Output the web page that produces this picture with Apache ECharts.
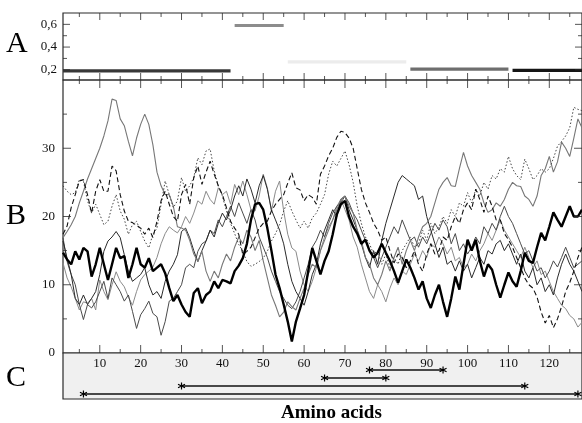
<!DOCTYPE html>
<html><head><meta charset="utf-8">
<script src="https://cdn.jsdelivr.net/npm/echarts@6/dist/echarts.min.js"></script>
<style>html,body{margin:0;padding:0;background:#fff}#c{width:582px;height:423px}</style>
</head><body><div id="c"></div>
<script>
// Residue numbering of the profiles
const firstResidue = 1;
const lastResidue = 128;

// Panel A: segment scores (start residue, end residue, score)
const segStart = [1, 43, 56, 86, 111];
const segEnd = [42, 55, 85, 110, 128];
const segScore = [0.19, 0.59, 0.27, 0.205, 0.195];
const segColor = ['#383838', '#8c8c8c', '#ececec', '#6e6e6e', '#151515'];

// Panel B: per-residue profiles
const thickProfile = [14.7,13.7,13.0,14.9,13.7,15.4,14.9,11.2,13,15.4, 13,10.7,13,15.4,13.9,14.2,11,13,15.4,13, 12.5,13.9,12,12.5,13,11.7,9.5,7.6,8.5,7.1, 6,5.3,8.8,9.5,7.3,8.5,9,10.5,9.5,10.7, 10.5,10.2,12,12.8,13.9,16,19.5,21.8,22,21, 18.3,15,11.5,9.5,7.1,4.6,1.7,4.6,6.5,8.5, 12,15.4,13.5,11.5,13.5,14.9,17.4,20.3,21.8,22.3, 20,18.5,17.5,16,16.6,15,14,14.7,16,14.7, 13.5,12,10.3,12,13.7,12.5,11,9.3,10.5,8, 6.6,8.5,10,7.5,5.3,8,11.2,9.3,13,16.6, 15,16.6,13.5,11.2,13,12.2,10,8.1,10,11.8, 10.5,9.7,12,14.7,13.5,13.2,15.5,17.6,16.5,18.5, 20.6,19.5,18.5,20,21.5,20,20,21];
const dashedProfile = [17.4,18.6,21.3,23.2,25.2,25.4,23.2,20.5,23.7,25.4, 23.7,23.7,27.4,26.7,23.2,20.8,19.3,19.1,18.7,18.3, 17.4,18.3,16.9,19.3,22.3,23.7,21.8,20,19.3,23.2, 24.7,21.8,25.7,27.4,24.7,26.5,28.1,26.2,24.5,23.2, 21.3,19.3,18.3,17.4,14.4,14.9,15.5,16.9,18.3,19, 19.3,20.8,21.8,22.5,23.2,24.9,26.4,24.2,23.9,22.3, 23.2,22.8,21.8,26.2,27.4,28.9,30,31.6,32.5,32.3, 31.5,30,27,24,22,20.6,19,18,16.5,17, 15,13.2,14.5,14,12.5,13.5,15,13,12,14.5, 16,14.5,15,17,16.5,18.5,20,19,21,22, 21,24,22.5,20.6,23,21.5,19.5,19.5,17.5,16.6, 15.5,14,12.5,11,10,9.5,8.2,6,4.4,5.5, 3.7,5,6.8,9,10.3,12,14,15.5];
const dottedProfile = [24.5,23.7,23.2,23.5,25.4,25.2,22.3,20.5,21.8,20.3, 18.8,19.3,21.5,23.2,20.8,19.6,17.4,18.8,19.3,17.8, 16.4,15.4,17.4,18.3,21.8,25.2,23.2,21.3,22.3,25.7, 23.7,24.5,25.7,28.6,27.6,29.6,29.9,26.7,24.5,23, 20.8,19,17.5,15.9,14.9,13.4,12.7,13,13.4,13.9, 14.9,16.4,17.5,18.8,20.8,22.3,20.8,19.5,18.3,19.3, 18.3,19.8,20.5,21.8,23.2,26.2,28.1,27.4,28.5,29.6, 27.6,25,21.5,19,17,16,14.5,15,13,14.5, 12.5,14,13,15,16,17,15.5,16,18,16.5, 19,17.5,18.5,20,19,21,20,22,21.5,23.5, 22,24,23,25,24,26,25.5,27,26.5,28.8, 27,26,25.4,28.4,27,25.4,26,27,26.5,27, 28.5,30.3,31,31.8,33,36,35.7,35.5];
const grayProfile = [16.9,17.8,18.8,20,22,23.7,25.5,27,28.5,30, 31.8,34,37.2,37,34.3,33.3,31,28.9,31.5,33.5, 35,33.5,30.5,26.5,24.5,23.2,23.2,21.5,18.5,18.3, 18,16.5,14.5,13.4,14.9,12,10.5,12,11,13, 14.5,13.5,15.5,17,16,18,17,15,16.5,13.5, 11,8.5,7,5.3,6,7.5,6.8,6.3,8,9.5, 11.5,13,12.5,15,16.5,18,19.5,21,22.5,23, 21.5,20.5,18,16.5,14,13,11,10,11.5,13.5, 12,14,15.5,13,15,16.5,15,17,18.5,19, 20,22,24,25,25.7,24.5,24.4,27,29.4,27.4, 26,25,24,22,20.6,21,22,21.5,22.5,24, 25,24.5,24.4,23,22.5,21.5,23,26,27,28.8, 26.5,28,30.9,30,28.8,31.5,34.3,33];
const blackProfile = [16.4,13.9,11.5,8,7.1,8.5,7.1,8,9,11.5, 14.9,16.4,17,17.8,16.9,14.4,12,10.5,11,11.5, 12.5,10,8.5,9,8,10.5,12,13,14.4,17.8, 18.3,16.9,15,13.4,15,16.4,18,17,19,20.5, 19.5,21,23,24.5,23,25.5,24,22,24.5,26, 24,21,19.5,18,16,13,10.5,9,8,7, 9,11.5,13,16,18,19.5,21,20,22.5,23, 21,19.5,18,16,14,12.5,15,13,16.5,19, 21,23,25,26,25.5,25,24.5,22.5,23,20, 18,16,14,15.5,13,13.5,12,13.5,12,13, 11,12.5,14,13,15,14.5,16,16.5,15,16, 14.5,13,14.5,12,11,12.5,10,11,9,10, 8.5,11,13,14.5,13,12,10.5,9];
const darkProfile = [16.9,13.4,11.5,10,7.1,4.9,7.1,6.6,7.5,9, 10.5,8,11,10,9,7.6,8.5,6.1,3.6,5.6, 6.5,7.6,5.8,5.3,2.6,4.6,7.6,8,9,10, 12.5,13,12.5,14.9,16,16.4,18,17.5,19.5,18.5, 20,21.5,20,22,20.5,19,21,19.5,17,15.5, 14,12,10.5,9,8,7,6.5,7.5,9,11, 13,15.5,16.5,18,17,19,20.5,21.5,22,23, 22,20.5,19.5,18,16.5,15,14,12.5,14,15.5, 17,18.5,17.5,19.5,18,16.5,17,15.5,17,16, 17.5,19,18,19.5,18.5,16,17.5,15,16,14.5, 15.5,17,16,18.5,17.5,19,18,20,21.5,20, 19,17.5,16,14.5,15,13.5,12,12.5,11,12, 13.5,12.6,14,15.5,14,12.5,13,13.5];
const lightProfile = [13.2,11,9.7,8,6.3,7.5,7.3,8,6.3,10.7, 9,7.8,10,11.9,10.5,9.7,8.2,7,9,10.7, 11.5,12,12.6,14,16,17.5,18.5,18,17.6,18.5, 20,19,20.5,22.3,21.8,23.7,22.5,21.8,24.2,23.2, 23.7,21.8,24.7,23.2,25.2,23.2,21,20.8,23,26.2, 24.2,20.8,23.7,25.2,20.8,17.4,15.4,14.9,12,10, 9,10.5,12.5,15,17,18.5,19.5,21.5,22.5,21, 19.5,17,15.5,13,11,9,8,10,9,7.5, 9.5,11,10,12,11.5,13,14.5,13.5,15,14, 16,15.5,17,16,14.5,15.5,13.5,14,12.5,13, 14.5,13.5,15,16,17.5,16.5,18,19.5,18,17, 16,15,14,15.5,14,12.5,13.5,11.5,12,10.5, 9,8,7,6.5,5.5,5,3.8,4.5];

// Panel C: region spans marked by asterisks
const spanStart = [76, 65, 30, 6];
const spanEnd = [94, 80, 114, 127];

// Tick positions and labels
const xMajorTicks = [10,20,30,40,50,60,70,80,90,100,110,120];
const xMinorTicks = [5,15,25,35,45,55,65,75,85,95,105,115,125];
const aRange = [0.11, 0.7];
const aMajorTicks = [0.2, 0.4, 0.6];
const aMinorTicks = [0.3, 0.5];
const bRange = [0, 40];
const bMajorTicks = [10, 20, 30];
const bMinorTicks = [5, 15, 25, 35];
const bLabels = [0, 10, 20, 30];

const SERIF = 'Liberation Serif';
const FRAME = '#2a2a2a';

const L = 63, W = 520;
const grids = [
  {left: L, width: W, top: 13, height: 67, show: true, borderColor: FRAME, borderWidth: 1.2, backgroundColor: '#fff'},
  {left: L, width: W, top: 80, height: 273, show: true, borderColor: FRAME, borderWidth: 1.2, backgroundColor: 'transparent'},
  {left: L, width: W, top: 353, height: 46, show: true, borderColor: FRAME, borderWidth: 1.2, backgroundColor: '#f0f0f0'}
];

const labelBase = {color: '#111', fontFamily: SERIF, fontSize: 13};
const xAxes = [
  {type: 'value', gridIndex: 0, min: firstResidue, max: lastResidue, show: false},
  {type: 'value', gridIndex: 1, min: firstResidue, max: lastResidue, position: 'bottom',
   axisLine: {show: false}, axisTick: {show: false}, splitLine: {show: false},
   axisLabel: Object.assign({customValues: xMajorTicks, margin: 4}, labelBase)},
  {type: 'value', gridIndex: 2, min: firstResidue, max: lastResidue, show: false}
];
const yAxes = [
  {type: 'value', gridIndex: 0, min: aRange[0], max: aRange[1], position: 'left',
   axisLine: {show: false}, axisTick: {show: false}, splitLine: {show: false},
   axisLabel: Object.assign({customValues: aMajorTicks, margin: 6, formatter: v => v.toFixed(1).replace('.', ',')}, labelBase)},
  {type: 'value', gridIndex: 1, min: bRange[0], max: bRange[1], position: 'left',
   axisLine: {show: false}, axisTick: {show: false}, splitLine: {show: false},
   axisLabel: Object.assign({customValues: bLabels, margin: 8}, labelBase)},
  // one row per span in panel C
  {type: 'value', gridIndex: 2, min: -1.125, max: 4.625, inverse: true, show: false}
];

const series = [];

// Inward tick marks on all four edges of a panel, placed through the panel's scales
function tickMarks(axisIdx, yLo, yHi, xTicks, yTicks, len) {
  const base = {
    type: 'scatter', xAxisIndex: axisIdx, yAxisIndex: axisIdx, silent: true, clip: false, z: 5,
    symbol: 'rect', itemStyle: {color: FRAME}
  };
  series.push(Object.assign({}, base, {data: xTicks.map(t => [t, yLo]), symbolSize: [1, len], symbolOffset: [0, -len / 2]}));
  series.push(Object.assign({}, base, {data: xTicks.map(t => [t, yHi]), symbolSize: [1, len], symbolOffset: [0, len / 2]}));
  series.push(Object.assign({}, base, {data: yTicks.map(t => [firstResidue, t]), symbolSize: [len, 1], symbolOffset: [len / 2, 0]}));
  series.push(Object.assign({}, base, {data: yTicks.map(t => [lastResidue, t]), symbolSize: [len, 1], symbolOffset: [-len / 2, 0]}));
}
tickMarks(0, aRange[0], aRange[1], xMajorTicks, aMajorTicks, 7);
tickMarks(0, aRange[0], aRange[1], xMinorTicks, aMinorTicks, 4);
tickMarks(1, bRange[0], bRange[1], xMajorTicks, bMajorTicks, 8);
tickMarks(1, bRange[0], bRange[1], xMinorTicks, bMinorTicks, 4);

// Panel A segments
segStart.forEach((s, i) => {
  series.push({
    type: 'line', xAxisIndex: 0, yAxisIndex: 0, symbol: 'none', silent: true,
    data: [[s, segScore[i]], [segEnd[i], segScore[i]]],
    lineStyle: {color: segColor[i], width: 3.2, cap: 'butt'}
  });
});

// Panel B profiles
function profile(values, style) {
  return {
    type: 'line', xAxisIndex: 1, yAxisIndex: 1, symbol: 'none', silent: true, clip: true,
    data: values.map((v, i) => [firstResidue + i, v]),
    lineStyle: style
  };
}
series.push(profile(lightProfile, {color: '#8a8a8a', width: 1}));
series.push(profile(darkProfile, {color: '#4a4a4a', width: 1}));
series.push(profile(blackProfile, {color: '#2a2a2a', width: 1}));
series.push(profile(grayProfile, {color: '#777', width: 1.1}));
series.push(profile(dottedProfile, {color: '#444', width: 1, type: [1.5, 2]}));
series.push(profile(dashedProfile, {color: '#111', width: 1.1, type: [5, 3]}));
series.push(profile(thickProfile, {color: '#000', width: 2.4}));

// Panel C spans
const star = 'path://M0,-5L0,5M-4.3,-2.5L4.3,2.5M-4.3,2.5L4.3,-2.5';
spanStart.forEach((s, i) => {
  series.push({
    type: 'line', xAxisIndex: 2, yAxisIndex: 2, silent: true,
    data: [[s, i + 1], [spanEnd[i], i + 1]],
    symbol: star, symbolSize: 7, showSymbol: true,
    itemStyle: {color: '#000', borderColor: '#000', borderWidth: 1.2},
    lineStyle: {color: '#111', width: 1.3}
  });
});

const chart = echarts.init(document.getElementById('c'), null, {renderer: 'canvas'});
chart.setOption({
  animation: false,
  backgroundColor: '#fff',
  grid: grids,
  xAxis: xAxes,
  yAxis: yAxes,
  series: series,
  graphic: [
    {type: 'text', left: 6, top: 29, style: {text: 'A', font: '30px "Liberation Serif"', fill: '#000'}},
    {type: 'text', left: 6, top: 201, style: {text: 'B', font: '30px "Liberation Serif"', fill: '#000'}},
    {type: 'text', left: 6, top: 363, style: {text: 'C', font: '30px "Liberation Serif"', fill: '#000'}},
    {type: 'text', left: 281, top: 404, style: {text: 'Amino acids', font: 'bold 19px "Liberation Serif"', fill: '#000'}}
  ]
});
</script>
</body></html>
